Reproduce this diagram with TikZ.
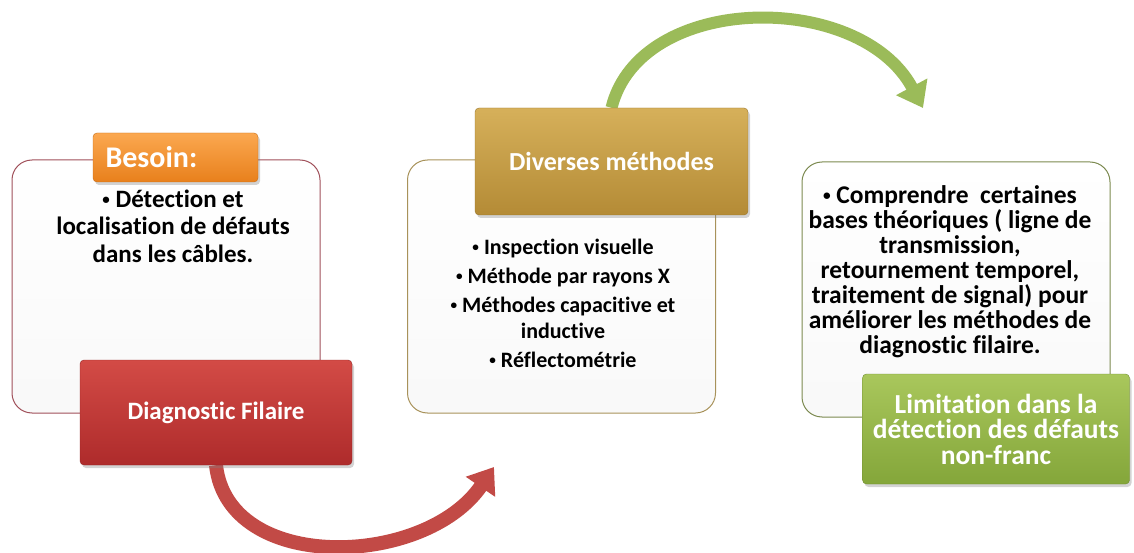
\documentclass[tikz,border=0pt]{standalone}
\usepackage{fontspec}
\setmainfont{Carlito}[Ligatures=NoCommon]
\usetikzlibrary{arrows.meta,shadows,backgrounds}

\definecolor{besoinA}{HTML}{FBA850}
\definecolor{besoinB}{HTML}{E8801C}
\definecolor{diagA}{HTML}{D34B46}
\definecolor{diagB}{HTML}{AE2B2B}
\definecolor{methA}{HTML}{D6B05A}
\definecolor{methB}{HTML}{B48B36}
\definecolor{limA}{HTML}{A9C75C}
\definecolor{limB}{HTML}{84A63A}
\definecolor{arrowred}{HTML}{C24A46}
\definecolor{arrowgreen}{HTML}{9BBB59}
\definecolor{bordA}{HTML}{A0505A}
\definecolor{bordB}{HTML}{A8925A}
\definecolor{bordC}{HTML}{7C8A50}

\newcommand\puce{\raisebox{.12em}{\scalebox{.6}{•}}}

\tikzset{
	panel/.style={draw=#1, line width=1pt, rounded corners=20pt, top color=white, bottom color=gray!5, minimum width=308pt, minimum height=253pt, inner sep=0pt},
	titlebox/.style 2 args={rounded corners=4pt, top color=#1, bottom color=#2, draw=#2!85!black, text=white, align=center, font=\bfseries\fontsize{25}{25.5}\selectfont, drop shadow={shadow xshift=2pt,shadow yshift=-3pt,opacity=.35}},
	bigarrow/.style={line width=14pt, draw=#1, -{Triangle[width=34pt,length=24pt]}}
}

\begin{document}
\begin{tikzpicture}[x=1pt,y=-1pt]
	\useasboundingbox (0,0) rectangle (1134,553);
	% les trois cadres
	\node[panel=bordA] (p1) at (166,286.5) {};
	\node[panel=bordB] (p2) at (561.5,286.5) {};
	\node[panel=bordC, minimum height=255pt] (p3) at (956,289.5) {};
	% titres
	\node[titlebox={besoinA}{besoinB}, minimum width=165pt, minimum height=49pt, inner xsep=12.5pt, text width=140pt, align=left, font=\bfseries\fontsize{30}{30}\selectfont] (besoin) at (175.5,157.5) {Besoin:};
	\node[titlebox={diagA}{diagB}, minimum width=272pt, minimum height=105pt] (diag) at (216,412.5) {Diagnostic Filaire};
	\node[titlebox={methA}{methB}, minimum width=273pt, minimum height=107pt, font=\bfseries\fontsize{26}{26}\selectfont] (meth) at (611.5,161.5) {Diverses méthodes};
	\node[titlebox={limA}{limB}, minimum width=267pt, minimum height=110pt, font=\bfseries\fontsize{27.5}{25.5}\selectfont] (lim) at (996,429) {Limitation dans la\\détection des défauts\\non-franc};
	% textes
	\node[font=\bfseries\fontsize{25}{27.5}\selectfont, align=center] (t1) at (173,226) {\puce{} Détection et\\localisation de défauts\\dans les câbles.};
	\node[font=\bfseries\fontsize{22}{26}\selectfont, align=center] (t2) at (563,303) {\puce{} Inspection visuelle\\[3pt]\puce{} Méthode par rayons X\\[3pt]\puce{} Méthodes capacitive et\\inductive\\[3pt]\puce{} Réflectométrie};
	\node[font=\bfseries\fontsize{25.5}{25}\selectfont, align=center] (t3) at (950,272) {\puce{} Comprendre\ \ certaines\\bases théoriques ( ligne de\\transmission,\\retournement temporel,\\traitement de signal) pour\\améliorer les méthodes de\\diagnostic filaire.};
	% fleches
	\begin{scope}[on background layer]
		\coordinate (redtip) at (494,467);
		\coordinate (greentip) at (923,108);
		\draw[bigarrow=arrowred] (diag.south) .. controls (228,574) and (425,568) .. (redtip);
		\draw[bigarrow=arrowgreen, line width=12pt] (meth.north) .. controls (640,-8) and (860,-10) .. (greentip);
	\end{scope}
\end{tikzpicture}
\end{document}
